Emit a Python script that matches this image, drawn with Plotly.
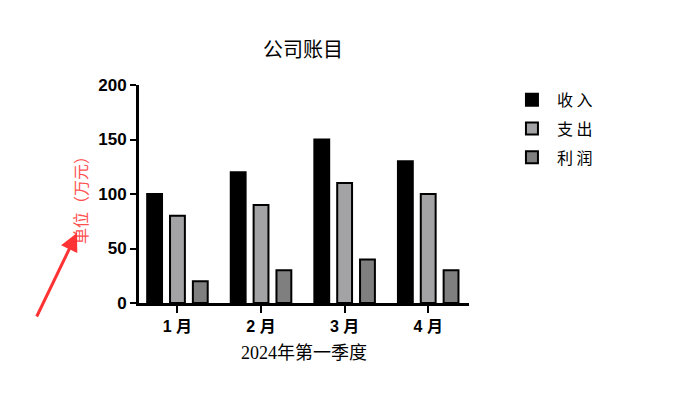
import plotly.graph_objects as go

categories = ["1 月", "2 月", "3 月", "4 月"]
series_names = ["收 入", "支 出", "利 润"]
income = [100, 120, 150, 130]
expense = [80, 90, 110, 100]
profit = [20, 30, 40, 30]
colors = ["#000000", "#a3a3a6", "#7f7f7f"]
y_ticks = [0, 50, 100, 150, 200]

# page has 8px body margin; reference coordinates are page coordinates
L, T, R, B = 131, 77, 461, 295  # plot area in figure coords
PW, PH = R - L, B - T

fig = go.Figure()
for name, vals, col in zip(series_names, [income, expense, profit], colors):
    fig.add_trace(go.Bar(
        x=categories, y=vals, name=name, legendgroup=name,
        marker=dict(color=col, line=dict(color="black", width=2)),
    ))

fig.update_layout(
    width=680, height=411,
    margin=dict(l=L, r=680 - R, t=T, b=411 - B),
    plot_bgcolor="white", paper_bgcolor="white",
    barmode="group", bargap=0.18, bargroupgap=0.35,
    title=dict(text="公司账目", x=295 / 680, xanchor="center", y=1 - 42 / 411, yanchor="middle",
               font=dict(size=20, color="black", family="Noto Sans CJK SC")),
    legend=dict(x=1.115, y=1.01, xanchor="left", yanchor="top",
                font=dict(size=16, color="black", family="Noto Sans CJK SC"),
                itemwidth=40, tracegroupgap=5, bgcolor="rgba(0,0,0,0)"),
    showlegend=True,
)
fig.update_xaxes(
    range=[-0.46, 3.488], showline=True, linecolor="black", linewidth=3,
    ticks="outside", ticklen=7, tickwidth=2, tickcolor="black",
    tickfont=dict(size=16, color="black", family="Liberation Sans, Noto Sans CJK SC"),
    title=dict(text="2024年第一季度", font=dict(size=18, color="black", family="Liberation Serif, Noto Sans CJK SC"), standoff=13),
    showgrid=False, zeroline=False,
    ticktext=[f"<b>{c}</b>" for c in categories], tickvals=categories,
)
fig.update_yaxes(
    range=[0, 200], tickvals=y_ticks, ticktext=[f"<b>{v}</b>" for v in y_ticks],
    showline=True, linecolor="black", linewidth=3,
    ticks="outside", ticklen=6, tickwidth=2, tickcolor="black",
    tickfont=dict(size=17, color="black", family="Liberation Sans"),
    showgrid=False, zeroline=False,
)

# red unit label
fig.add_annotation(
    text="单位（万元）", xref="paper", yref="paper",
    x=(73 - L) / PW, y=(B - 188) / PH, textangle=-90, xanchor="center", yanchor="middle",
    showarrow=False, font=dict(size=16, color="#ff5050", family="Liberation Serif, Noto Sans CJK SC"),
)
# red arrow
fig.add_annotation(
    x=(69 - L) / PW, y=(B - 225) / PH, xref="paper", yref="paper",
    ax=-41, ay=85, axref="pixel", ayref="pixel",
    text="", showarrow=True, arrowhead=2, arrowsize=1.2, arrowwidth=3, arrowcolor="#ff3333",
)

fig.write_html("out.html")
